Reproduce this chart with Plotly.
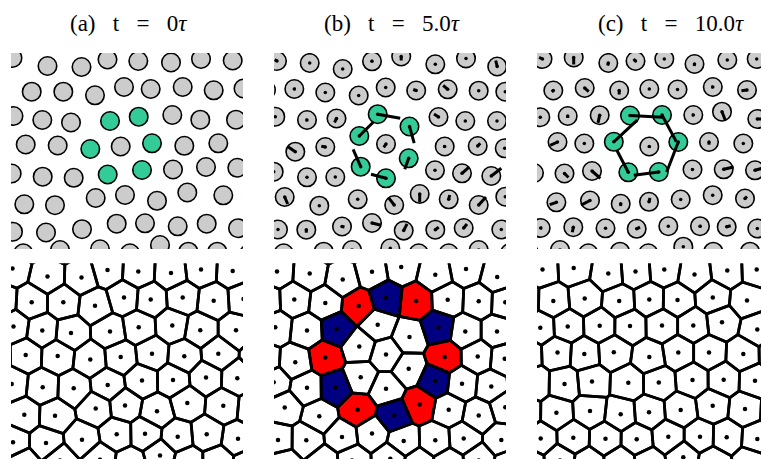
import numpy as np
import plotly.graph_objects as go

W, H = 761, 459

TITLES = ["(a)   t   =   0<i>τ</i>", "(b)   t   =   5.0<i>τ</i>", "(c)   t   =   10.0<i>τ</i>"]

# particle centres, px inside each panel; rows from top, out-of-view neighbours included
GHOST_ROW0_X = [18, 52, 84, 113, 143, 175, 206, 237]
GHOST_ROW0_Y = [-20, -20, -20, -20, -20, -20, -20, -20]

# ---- (a) t = 0 ----
A_X = [1.5, 36.5, 70.5, 96.5, 127.3, 160, 190, 221.7, 252,
       -10, 20.7, 52.3, 84, 113, 139.7, 171.7, 202.7, 232.5,
       2.5, 31.3, 60, 99, 127.7, 161.3, 189.3, 225, 256,
       -16, 14.7, 46.7, 79.3, 109.7, 141, 173.3, 207.3, 249,
       0.7, 31.7, 62.7, 96.7, 131, 162, 195, 226.3, 257,
       -17, 13.3, 44, 84.7, 114, 146, 176.3, 212.3, 242,
       2, 35, 71, 105.7, 134, 166.7, 195.7, 227, 258,
       -19, 12.3, 49, 89, 119, 149, 177.3, 206.3, 238]
A_Y = [5, 13, 14, 6.5, 8, 9.5, 6, 7.5, 8,
       37, 38.7, 38.7, 42.3, 34, 36, 34, 37.3, 35.5,
       63, 67, 69.5, 68, 63.7, 62, 66.7, 66.7, 66,
       92, 91.5, 92.5, 96, 93.5, 90.3, 92.8, 90.3, 92,
       120.5, 123.7, 124.8, 121.5, 117, 116.5, 114, 114.8, 117,
       150, 151.3, 152.2, 145, 142, 147.8, 139.5, 142.3, 145,
       178.7, 179.5, 176.2, 170.7, 170.3, 173.3, 170.7, 175.2, 175,
       201, 200.3, 197, 196.3, 200.3, 192, 198.7, 198.7, 201]
A_KIND = ("nnnnnnnnn" "nnnnnnnnn" "nnnggnnnn" "nnngngnnn"
          "nnnggnnnn" "nnnnnnnnn" "nnnnnnnnn" "nnnnnnnnn")
A_DX = [0] * len(A_X)
A_DY = [0] * len(A_X)

# ---- (b) t = 5.0 ----
B_X = [3, 35.7, 68.7, 98, 127.2, 161.3, 192, 223.2, 254,
       -8, 20.3, 51.3, 84.7, 111.7, 142.2, 173.7, 204.7, 231.3,
       1.3, 33, 62.5, 103.7, 135.5, 164.5, 191.3, 223, 254,
       -10, 21.3, 51.3, 85.3, 112, 170.7, 203.7, 230.7, 262,
       -0.3, 33, 61.3, 86.7, 112, 134.7, 161, 188, 217.3, 250,
       -20, 10.7, 45.3, 83.7, 120.2, 145.7, 174.7, 204.7, 231.3,
       4, 32.3, 68, 98, 129.7, 161.3, 189.7, 227.3, 258,
       -22, 9.7, 49.7, 78, 116.3, 144.7, 174.7, 204.7, 236]
B_Y = [8, 10, 16, 8.3, 3.5, 11.3, 5.4, 13.5, 8,
       37, 36, 39.5, 42.5, 34.5, 37.5, 36.3, 37.7, 38.7,
       63.7, 67, 65.5, 61.2, 73.5, 64, 68, 68, 66,
       97, 98.7, 94, 83, 91, 93.5, 93, 95.3, 95,
       118.7, 124.3, 124, 113.7, 125.3, 105.3, 117.3, 120.3, 123, 120,
       145, 144, 152.7, 146.3, 152, 141, 146.3, 152, 143.7,
       176.5, 176.7, 173.5, 170, 177.6, 176.7, 175, 176.5, 176,
       200, 200.3, 198.7, 197, 195.3, 200.3, 200.3, 197, 200]
B_DX = [-2.3, 0, 0, -1, 0, 0, 0, -1.5, 0,
        0, 1.2, 0, 0, 0, -3, -4.5, 0, 0,
        0, -1.5, -2, 22.5, 4.7, -4.5, 0, 0, 0,
        0, -7.3, -4, 14.4, -2.3, -1.5, 2.6, 0, 0,
        0, 0, 0, -7.6, -15, -4, 0, 6.7, 10, 0,
        0, 3, 0, 0, -5.7, 0, 1, 7.3, 0,
        0, 0, 2.5, 9, 3.3, 3.4, 3.3, 0, 0,
        0, 0, 0, 0, 0, 0, 0, 0, 0]
B_DY = [-1.4, 0, 0, -1, 4, 0, 0, -6, 0,
        0, 0, 0, 0, 0, -1, -4, 0, 0,
        0, 0, 4, 4, 16.7, -3, 0, 0, 0,
        0, -5, -0.7, -14.3, 3.3, 0, -2.7, 0, 0,
        0, 0, 0, -17.4, -4, 11, 0, -6, -7.7, 0,
        0, 7, 0, 0, -7.3, 8.3, -4.3, -8, 0,
        0, 3, 0.5, 2.3, -6.7, -2.6, -4, 0, 0,
        0, 0, 0, 0, 0, 0, 0, 0, 0]
# g = tagged (green) particle, r = 7-sided cell, b = 5-sided cell
B_KIND = ("nnnnnnnnn" "nnnrbrnnn" "nnbggbnnn" "nnrgnrnnn"
          "nnbgggbnnn" "nnnrbrnnn" "nnnnnnnnn" "nnnnnnnnn")

# ---- (c) t = 10.0 ----
C_X = [5.5, 36.7, 71.3, 98.5, 127.3, 157.5, 190.3, 219.7, 250,
       -13, 16.3, 47.7, 82.2, 112.3, 140.5, 175.8, 210, 241,
       3.3, 30.7, 62.7, 93, 125, 156.3, 185, 220.3, 252,
       -11, 20.5, 47.3, 76.8, 112.3, 141.3, 172, 206.3, 238,
       -3, 27.5, 55, 91.3, 121.8, 155.5, 186.7, 218, 250,
       -12, 19.4, 53, 83.7, 112, 143.7, 175.7, 208, 240,
       3.7, 36.3, 68.5, 99.7, 131.3, 163, 189.7, 220.3, 252,
       -8, 23, 51.3, 83, 111.3, 146.3, 176.3, 213, 244]
C_Y = [6, 4.5, 10, 8, 6, 11, 7, 6, 8,
       37, 37.5, 35, 37.5, 36, 36.5, 34, 37, 37,
       64.2, 63, 62.2, 62.5, 62, 62, 58.7, 66, 64,
       90, 89, 90.5, 88.8, 93.5, 89, 89, 90.5, 90,
       120, 120.5, 118, 119.3, 119, 116.5, 116.3, 117.3, 118,
       149, 149.3, 147.5, 150.8, 148.8, 146.5, 142.2, 145.5, 147,
       175, 174.2, 175.3, 175.8, 173.2, 173.2, 173.8, 175.5, 175,
       200, 197, 200.3, 198.7, 200.3, 193.7, 198.7, 198.7, 200]
C_DX = [-3.4, 0, -0.6, -2, 0, -0.3, 0, 0, 0,
        0, -1.6, 4, 0, 0, 0, -1.5, -5.6, 0,
        0, 0, -1.7, 32.7, 14.4, -1.5, 3.3, 4.7, 0,
        0, -7.3, 0, 23.4, 0, -11.6, 0, 0, 0,
        0, 4, 8.3, -11.6, -25, -1.5, 10, 7, 0,
        0, -6.7, -9, 0, 1, 0, 0, 2, 0,
        1.5, -1, 0, 3.3, 0, 1.5, 4, 0, 0,
        0, 0, 0, 0, 0, 0, 0, 0, 0]
C_DY = [-1.6, 7, 2.7, -2, 0, 2, 0, 0, 0,
        0, 1.3, 3.7, 4, 0, 0, 0, 0.7, 0,
        0, 2, 7.7, 1.7, 26.7, 0, 8.6, 0, 0,
        0, 3.3, 0, -21.7, 1.5, 30, 2.7, 0, 0,
        0, 4, 7.3, -22.3, 3.3, 0, -2.3, -2, 0,
        0, 2.3, 4.7, 2.3, -4, 0, 0, -2, 0,
        0, 5, 0, -1.7, 0, 0, -1, 0, 0,
        0, 0, 0, 0, 0, 0, 0, 0, 0]
C_KIND = ("nnnnnnnnn" "nnnnnnnnn" "nnnggnnnn" "nnngngnnn"
          "nnnggnnnn" "nnnnnnnnn" "nnnnnnnnn" "nnnnnnnnn")

PANELS = [
    (A_X, A_Y, A_DX, A_DY, A_KIND, False),
    (B_X, B_Y, B_DX, B_DY, B_KIND, True),
    (C_X, C_Y, C_DX, C_DY, C_KIND, True),
]

GRAY = "#cccccc"
GREEN = "#33cc99"
RED = "#ff0000"
NAVY = "#000080"

# panel boxes in page pixels: left, right, top, bottom
COLS = [(11, 243), (274, 506), (537, 761)]
ROWS = [(53, 249), (263.5, 459)]


def clip_halfplane(poly, n, c):
    out = []
    for k in range(len(poly)):
        a, b = poly[k], poly[(k + 1) % len(poly)]
        fa = n[0] * a[0] + n[1] * a[1] - c
        fb = n[0] * b[0] + n[1] * b[1] - c
        if fa <= 0:
            out.append(a)
        if fa * fb < 0:
            t = fa / (fa - fb)
            out.append((a[0] + t * (b[0] - a[0]), a[1] + t * (b[1] - a[1])))
    return out


def voronoi(xs, ys):
    pts = np.column_stack([xs, ys]).astype(float)
    cells = []
    for i, p in enumerate(pts):
        poly = [(-50, -50), (290, -50), (290, 250), (-50, 250)]
        for j, q in enumerate(pts):
            if i == j or np.hypot(*(q - p)) > 90:
                continue
            n = q - p
            poly = clip_halfplane(poly, n, (q @ q - p @ p) / 2)
        cells.append(poly)
    return cells


def join(polys):
    xs, ys = [], []
    for poly in polys:
        xs += [v[0] for v in poly] + [poly[0][0], None]
        ys += [v[1] for v in poly] + [poly[0][1], None]
    return xs, ys


fig = go.Figure()


def sfx(k):
    return "" if k == 1 else str(k)


for col, (xs, ys, dxs, dys, kind, moved) in enumerate(PANELS):
    top, bot = col + 1, col + 4
    xs_all = list(xs) + GHOST_ROW0_X
    ys_all = list(ys) + GHOST_ROW0_Y
    kind_all = kind + "n" * len(GHOST_ROW0_X)

    # --- top: particles ---
    for k_sel, colr in (("nrb", GRAY), ("g", GREEN)):
        sel = [i for i, k in enumerate(kind_all) if k in k_sel]
        fig.add_trace(go.Scatter(
            x=[xs_all[i] for i in sel], y=[ys_all[i] for i in sel],
            mode="markers", xaxis="x" + sfx(top), yaxis="y" + sfx(top),
            marker=dict(size=18.5, color=colr, line=dict(color="black", width=1.6)),
            hoverinfo="skip", showlegend=False))
    if moved:
        lx, ly = [], []
        for x, y, dx, dy in zip(xs, ys, dxs, dys):
            if abs(dx) + abs(dy) > 0:
                lx += [x, x + dx, None]
                ly += [y, y + dy, None]
        fig.add_trace(go.Scatter(
            x=lx, y=ly, mode="lines", xaxis="x" + sfx(top), yaxis="y" + sfx(top),
            line=dict(color="black", width=3), hoverinfo="skip", showlegend=False))
        fig.add_trace(go.Scatter(
            x=xs_all, y=ys_all, mode="markers", xaxis="x" + sfx(top), yaxis="y" + sfx(top),
            marker=dict(size=3.5, color="black"), hoverinfo="skip", showlegend=False))

    # --- bottom: Voronoi tessellation ---
    cells = voronoi(xs_all, ys_all)
    for k_sel, colr in (("r", RED), ("b", NAVY)):
        polys = [c for c, k in zip(cells, kind_all) if k == k_sel]
        if polys:
            px, py = join(polys)
            fig.add_trace(go.Scatter(
                x=px, y=py, mode="lines", fill="toself", fillcolor=colr,
                xaxis="x" + sfx(bot), yaxis="y" + sfx(bot),
                line=dict(color="black", width=0), hoverinfo="skip", showlegend=False))
    px, py = join(cells)
    fig.add_trace(go.Scatter(
        x=px, y=py, mode="lines", xaxis="x" + sfx(bot), yaxis="y" + sfx(bot),
        line=dict(color="black", width=2.8), hoverinfo="skip", showlegend=False))
    fig.add_trace(go.Scatter(
        x=xs_all, y=ys_all, mode="markers", xaxis="x" + sfx(bot), yaxis="y" + sfx(bot),
        marker=dict(size=4.5, color="black"), hoverinfo="skip", showlegend=False))

layout = {}
for r, (y0, y1) in enumerate(ROWS):
    for c, (x0, x1) in enumerate(COLS):
        k = r * 3 + c + 1
        layout["xaxis" + sfx(k)] = dict(domain=[x0 / W, x1 / W], range=[0, x1 - x0],
                                        visible=False, anchor="y" + sfx(k))
        layout["yaxis" + sfx(k)] = dict(domain=[1 - y1 / H, 1 - y0 / H], range=[y1 - y0, 0],
                                        visible=False, anchor="x" + sfx(k))
fig.update_layout(**layout)

TITLE_X = [128, 392, 671]
fig.update_layout(
    width=W, height=H, margin=dict(l=0, r=0, t=0, b=0),
    paper_bgcolor="white", plot_bgcolor="white",
    annotations=[dict(text=t, x=tx / W, y=1 - 23 / H, xref="paper", yref="paper",
                      xanchor="center", yanchor="middle", showarrow=False,
                      font=dict(family="Liberation Serif", size=23, color="black"))
                 for t, tx in zip(TITLES, TITLE_X)],
)

# page body has a default 8px margin; drop it so the figure sits at the window origin
fig.write_html("out.html", config={"displayModeBar": False},
               post_script="document.body.style.margin = '0';")
